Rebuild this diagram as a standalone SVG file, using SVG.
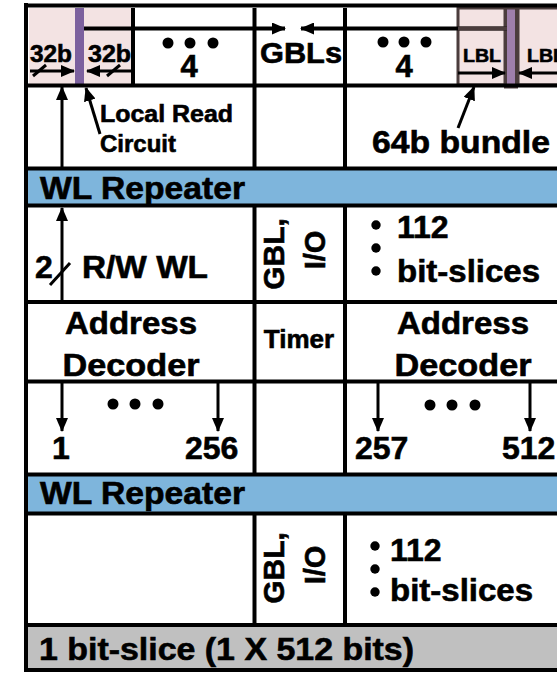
<svg xmlns="http://www.w3.org/2000/svg" width="557" height="675" viewBox="0 0 557 675">
<defs>
<style>
.t{font-family:"Liberation Sans",Arial,Helvetica,sans-serif;font-weight:bold;fill:#000;stroke:#000;stroke-width:0.6}
.g{stroke:#000;stroke-width:4;fill:none}
.c{stroke:#000;stroke-width:3;fill:none}
.pink{fill:#f3e3e3}
.blue{fill:#7eb5dc}
</style>
<marker id="ah" viewBox="0 0 14 12" refX="13" refY="6" markerWidth="14" markerHeight="12" markerUnits="userSpaceOnUse" orient="auto">
<path d="M0,0 L14,6 L0,12 z" fill="#000"/>
</marker>
</defs>
<rect width="557" height="675" fill="#fff"/>

<g id="top-row">
<rect class="pink" x="29" y="8" width="46" height="77"/>
<rect x="75" y="8" width="9" height="78" fill="#7c619e"/>
<rect class="pink" x="84" y="8" width="48" height="77"/>
<rect class="pink" x="458" y="8" width="47" height="77" stroke="#4b3d3d" stroke-width="3"/>
<rect x="505.5" y="8" width="11" height="79" fill="#9e7fab" stroke="#4b3d3d" stroke-width="3"/>
<rect class="pink" x="518" y="8" width="45" height="77" stroke="#4b3d3d" stroke-width="3"/>
<line x1="345" y1="28.5" x2="507" y2="28.5" stroke="#000" stroke-width="4"/>
<line x1="458" y1="28.5" x2="507" y2="28.5" stroke="#4b3d3d" stroke-width="4"/>
<text class="t" x="30" y="62" font-size="24" textLength="42" lengthAdjust="spacingAndGlyphs">32b</text>
<text class="t" x="88" y="62" font-size="24" textLength="43" lengthAdjust="spacingAndGlyphs">32b</text>
<circle cx="168" cy="43" r="5.5"/><circle cx="190" cy="43" r="5.5"/><circle cx="213" cy="43" r="5.5"/>
<text class="t" x="189" y="77" font-size="31" text-anchor="middle">4</text>
<text class="t" x="260" y="63" font-size="29" textLength="82" lengthAdjust="spacingAndGlyphs">GBLs</text>
<circle cx="383" cy="42" r="5.5"/><circle cx="404" cy="42" r="5.5"/><circle cx="426" cy="42" r="5.5"/>
<text class="t" x="404" y="77" font-size="31" text-anchor="middle">4</text>
<text class="t" x="463" y="62" font-size="19" textLength="38" lengthAdjust="spacingAndGlyphs">LBL</text>
<text class="t" x="527" y="62" font-size="19" textLength="38" lengthAdjust="spacingAndGlyphs">LBL</text>
</g>

<g id="bands">
<rect class="blue" x="28" y="170" width="529" height="34"/>
<rect class="blue" x="28" y="476" width="529" height="36"/>
<rect x="28" y="627" width="529" height="42" fill="#c0c0c0"/>
<line x1="149" y1="184" x2="149" y2="204" stroke="#1d3a55" stroke-width="1.5"/>
<text class="t" x="40" y="199" font-size="31" textLength="205" lengthAdjust="spacingAndGlyphs">WL Repeater</text>
<text class="t" x="40" y="504" font-size="31" textLength="205" lengthAdjust="spacingAndGlyphs">WL Repeater</text>
<text class="t" x="39" y="660" font-size="32" textLength="375" lengthAdjust="spacingAndGlyphs">1 bit-slice (1 X 512 bits)</text>
</g>

<g id="grid">
<line class="g" x1="26" y1="3" x2="26" y2="672" stroke-width="5"/>
<line class="g" x1="24" y1="5.5" x2="557" y2="5.5" stroke-width="5"/>
<line class="g" x1="28" y1="85.5" x2="557" y2="85.5"/>
<line class="g" x1="28" y1="168.5" x2="557" y2="168.5"/>
<line class="g" x1="28" y1="205.5" x2="557" y2="205.5"/>
<line class="g" x1="28" y1="302" x2="557" y2="302"/>
<line class="g" x1="28" y1="381.5" x2="557" y2="381.5"/>
<line class="g" x1="28" y1="474.5" x2="557" y2="474.5"/>
<line class="g" x1="28" y1="513.5" x2="557" y2="513.5"/>
<line class="g" x1="28" y1="625" x2="557" y2="625"/>
<line class="g" x1="24" y1="670" x2="557" y2="670"/>
<line class="g" x1="133" y1="8" x2="133" y2="84"/>
<line class="g" x1="254.5" y1="8" x2="254.5" y2="167"/>
<line class="g" x1="345" y1="8" x2="345" y2="167"/>
<line class="g" x1="254.5" y1="207" x2="254.5" y2="473"/>
<line class="g" x1="345" y1="207" x2="345" y2="473"/>
<line class="g" x1="254.5" y1="515" x2="254.5" y2="623"/>
<line class="g" x1="345" y1="515" x2="345" y2="623"/>
</g>

<g id="connectors">
<line class="g" x1="84" y1="28.5" x2="285" y2="28.5" marker-end="url(#ah)"/>
<line class="g" x1="345" y1="28.5" x2="301" y2="28.5" marker-end="url(#ah)"/>
<line class="c" x1="30" y1="71" x2="74" y2="71" marker-end="url(#ah)"/>
<line class="c" x1="33" y1="76" x2="46" y2="65"/>
<line class="c" x1="131" y1="71" x2="87" y2="71" marker-end="url(#ah)"/>
<line class="c" x1="107" y1="76" x2="120" y2="65"/>
<line class="c" x1="458" y1="73" x2="505" y2="73" marker-end="url(#ah)"/>
<line class="c" x1="557" y1="73" x2="519" y2="73" marker-end="url(#ah)"/>
<line class="c" x1="62" y1="168" x2="62" y2="87" marker-end="url(#ah)"/>
<line class="c" x1="100" y1="134" x2="86" y2="88" marker-end="url(#ah)"/>
<line class="c" x1="458" y1="128" x2="474" y2="87" marker-end="url(#ah)"/>
<line class="c" x1="62" y1="300" x2="62" y2="208" marker-end="url(#ah)"/>
<line class="c" x1="50" y1="285" x2="70" y2="263"/>
<line class="c" x1="62" y1="383" x2="62" y2="431" marker-end="url(#ah)"/>
<line class="c" x1="218" y1="383" x2="218" y2="431" marker-end="url(#ah)"/>
<line class="c" x1="378" y1="383" x2="378" y2="431" marker-end="url(#ah)"/>
<line class="c" x1="530" y1="383" x2="530" y2="431" marker-end="url(#ah)"/>
</g>

<g id="labels">
<text class="t" x="100" y="122" font-size="24" textLength="133" lengthAdjust="spacingAndGlyphs">Local Read</text>
<text class="t" x="100" y="152" font-size="24">Circuit</text>
<text class="t" x="372" y="153" font-size="31" textLength="178" lengthAdjust="spacingAndGlyphs">64b bundle</text>
</g>

<g id="rw-row">
<text class="t" x="35" y="278" font-size="32">2</text>
<text class="t" x="82" y="278" font-size="32" textLength="126" lengthAdjust="spacingAndGlyphs">R/W WL</text>
<text class="t" font-size="30" text-anchor="middle" transform="translate(284,254) rotate(-90)">GBL,</text>
<text class="t" font-size="29" text-anchor="middle" transform="translate(325,250) rotate(-90)">I/O</text>
<circle cx="376" cy="225" r="4.7"/><circle cx="376" cy="248" r="4.7"/><circle cx="376" cy="271" r="4.7"/>
<text class="t" x="397" y="238" font-size="32">112</text>
<text class="t" x="397" y="282" font-size="32" textLength="143" lengthAdjust="spacingAndGlyphs">bit-slices</text>
</g>

<g id="decoder-row">
<text class="t" x="131" y="334" font-size="32" text-anchor="middle" textLength="132" lengthAdjust="spacingAndGlyphs">Address</text>
<text class="t" x="131" y="376" font-size="32" text-anchor="middle" textLength="137" lengthAdjust="spacingAndGlyphs">Decoder</text>
<text class="t" x="299" y="348" font-size="26" text-anchor="middle">Timer</text>
<text class="t" x="463" y="334" font-size="32" text-anchor="middle" textLength="132" lengthAdjust="spacingAndGlyphs">Address</text>
<text class="t" x="463" y="376" font-size="32" text-anchor="middle" textLength="137" lengthAdjust="spacingAndGlyphs">Decoder</text>
</g>

<g id="wl-row">
<circle cx="113" cy="404" r="5.5"/><circle cx="135" cy="404" r="5.5"/><circle cx="158" cy="404" r="5.5"/>
<circle cx="430" cy="405" r="5.5"/><circle cx="452" cy="405" r="5.5"/><circle cx="475" cy="405" r="5.5"/>
<text class="t" x="61" y="459" font-size="32" text-anchor="middle">1</text>
<text class="t" x="185" y="459" font-size="32">256</text>
<text class="t" x="355" y="459" font-size="32">257</text>
<text class="t" x="502" y="459" font-size="32">512</text>
</g>

<g id="io-row">
<text class="t" font-size="30" text-anchor="middle" transform="translate(284,568) rotate(-90)">GBL,</text>
<text class="t" font-size="29" text-anchor="middle" transform="translate(325,565) rotate(-90)">I/O</text>
<circle cx="375" cy="546" r="4.7"/><circle cx="375" cy="569" r="4.7"/><circle cx="375" cy="592" r="4.7"/>
<text class="t" x="390" y="561" font-size="32">112</text>
<text class="t" x="390" y="601" font-size="32" textLength="143" lengthAdjust="spacingAndGlyphs">bit-slices</text>
</g>
</svg>
